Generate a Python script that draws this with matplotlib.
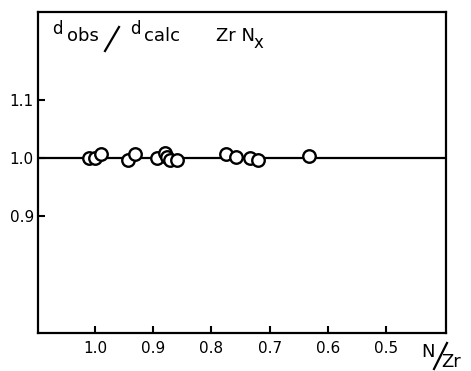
import matplotlib
matplotlib.use("Agg")
import matplotlib.pyplot as plt

# N/Zr ratio and d_obs/d_calc values
n_zr = [1.010, 1.000, 0.990, 0.943, 0.931, 0.893, 0.880, 0.876, 0.872, 0.859,
        0.775, 0.758, 0.733, 0.720, 0.632]
d_ratio = [0.999, 0.999, 1.007, 0.996, 1.007, 0.999, 1.009, 1.001, 0.996, 0.996,
           1.006, 1.002, 1.000, 0.997, 1.004]

x_ticks = [1.0, 0.9, 0.8, 0.7, 0.6, 0.5]
x_labels = ["1.0", "0.9", "0.8", "0.7", "0.6", "0.5"]
y_ticks = [1.1, 1.0, 0.9]
y_labels = ["1.1", "1.0", "0.9"]

plt.rcParams['font.family'] = ['DejaVu Sans']

fig = plt.figure(figsize=(4.71, 3.71), dpi=100)
ax = fig.add_axes([0.0807, 0.1024, 0.8663, 0.8653])

# reference line at 1.0
ax.axhline(1.0, color='black', linewidth=1.6, zorder=1)

# open circles
ax.plot(n_zr, d_ratio, linestyle='none', marker='o', markersize=9,
        markerfacecolor='white', markeredgecolor='black', markeredgewidth=1.7, zorder=2)

ax.set_xlim(1.098, 0.397)
ax.set_ylim(0.70, 1.25)

ax.set_xticks(x_ticks)
ax.set_xticklabels(x_labels, fontsize=11)
ax.set_yticks(y_ticks)
ax.set_yticklabels(y_labels, fontsize=11)
ax.tick_params(direction='in', length=5, width=1.5, pad=6)
ax.tick_params(axis='y', pad=3)

for s in ax.spines.values():
    s.set_linewidth(1.6)

# labels inside the box, placed in figure pixels
tr = fig.transFigure
W, H = 471, 371
fig.text(52 / W, 1 - 29 / H, "d", fontsize=12, transform=tr, va='center', ha='left')
fig.text(67 / W, 1 - 36 / H, "obs", fontsize=13, transform=tr, va='center', ha='left')
fig.add_artist(plt.Line2D([105 / W, 119 / W], [1 - 51 / H, 1 - 27 / H],
                          color='black', linewidth=1.6, transform=tr))
fig.text(130 / W, 1 - 29 / H, "d", fontsize=12, transform=tr, va='center', ha='left')
fig.text(144 / W, 1 - 36 / H, "calc", fontsize=13, transform=tr, va='center', ha='left')
fig.text(216 / W, 1 - 36 / H, "Zr N", fontsize=13, transform=tr, va='center', ha='left')
fig.text(254 / W, 1 - 43 / H, "x", fontsize=12, transform=tr, va='center', ha='left')

# x axis label N/Zr
fig.text(421 / W, 1 - 352 / H, "N", fontsize=13, transform=tr, va='center', ha='left')
fig.add_artist(plt.Line2D([434 / W, 447 / W], [1 - 369 / H, 1 - 343 / H],
                          color='black', linewidth=1.6, transform=tr))
fig.text(441 / W, 1 - 362 / H, "Zr", fontsize=13, transform=tr, va='center', ha='left')

fig.savefig("out.png", dpi=100)
